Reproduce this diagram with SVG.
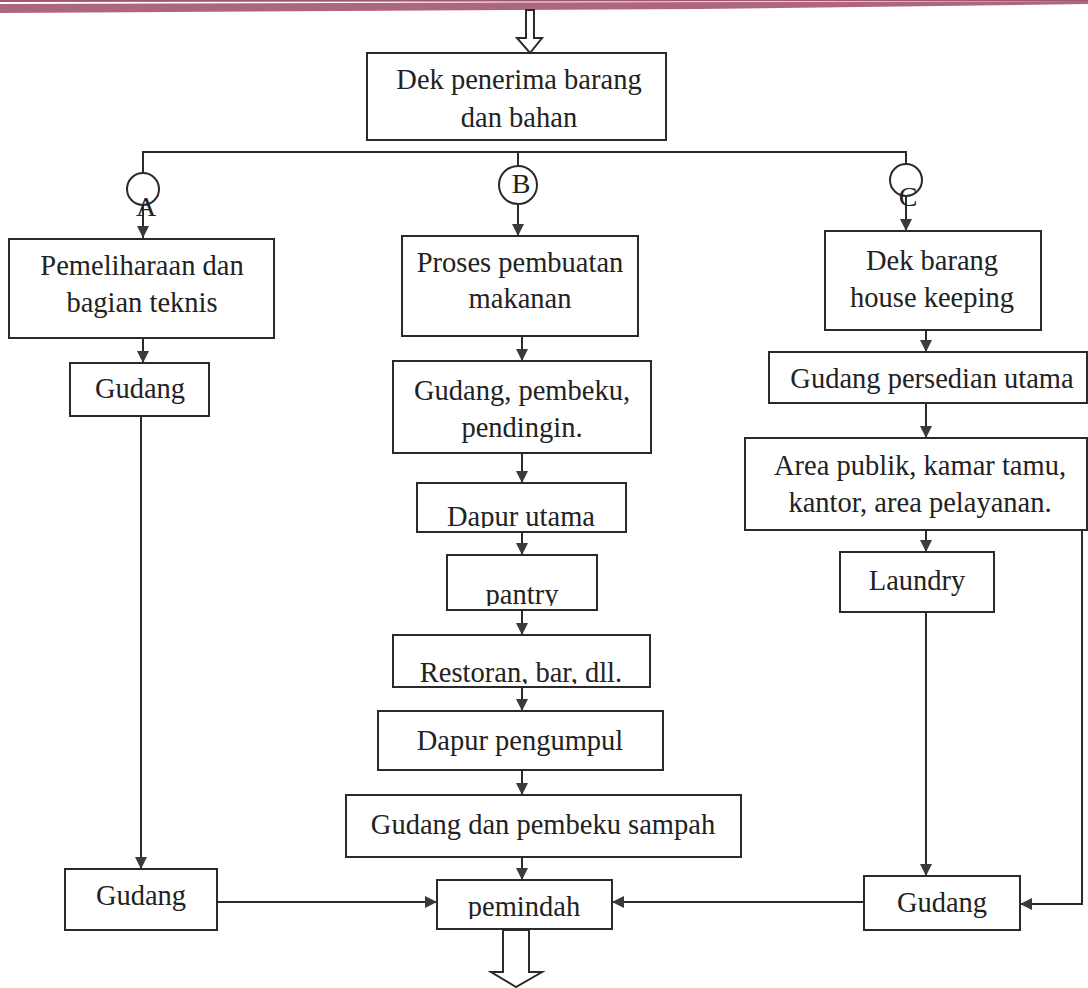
<svg xmlns="http://www.w3.org/2000/svg" width="1088" height="988" viewBox="0 0 1088 988">
<style>
.box{fill:#fff;stroke:#2a2a2a;stroke-width:2}
.t{font-family:"Liberation Serif","Times New Roman",serif;font-size:28.5px;fill:#222;text-anchor:middle}
.lbl{font-family:"Liberation Serif","Times New Roman",serif;font-size:28px;fill:#222;text-anchor:middle}
.ln{fill:none;stroke:#2a2a2a;stroke-width:2}
.ar{fill:none;stroke:#2a2a2a;stroke-width:2;marker-end:url(#ah)}
.hollow{fill:#fff;stroke:#2a2a2a;stroke-width:2;stroke-linejoin:miter}
</style>
<defs>
<marker id="ah" viewBox="0 0 12 12" refX="12" refY="6" markerWidth="12" markerHeight="12" markerUnits="userSpaceOnUse" orient="auto">
<path d="M0,0 L12,6 L0,12 Z" fill="#3a3a3a"/>
</marker>
<clipPath id="cDapur"><rect x="417" y="483" width="209" height="45"/></clipPath>
<clipPath id="cPantry"><rect x="447" y="555" width="150" height="51"/></clipPath>
<clipPath id="cResto"><rect x="393" y="635" width="257" height="49"/></clipPath>
<clipPath id="cPemindah"><rect x="437" y="880" width="175" height="39"/></clipPath>
</defs>
<rect width="1088" height="988" fill="#fff"/>
<g id="band">
<polygon points="0,0 1088,0 1088,1 0,2" fill="#a3566f"/>
<polygon points="0,4 1088,1 1088,4 700,9 0,13" fill="#a3566f" opacity="0.9"/>
</g>
<g id="connectors">
<polyline class="ln" points="143,172 143,152 906,152 906,164"/>
<line class="ln" x1="518" y1="152" x2="518" y2="166"/>
<line class="ar" x1="143" y1="205" x2="143" y2="238"/>
<line class="ar" x1="518" y1="204" x2="518" y2="236"/>
<line class="ar" x1="906" y1="196" x2="906" y2="231"/>
<line class="ar" x1="143" y1="338" x2="143" y2="363"/>
<line class="ar" x1="141" y1="416" x2="141" y2="869"/>
<line class="ar" x1="522" y1="336" x2="522" y2="361"/>
<line class="ar" x1="522" y1="453" x2="522" y2="483"/>
<line class="ar" x1="522" y1="532" x2="522" y2="555"/>
<line class="ar" x1="522" y1="610" x2="522" y2="635"/>
<line class="ar" x1="522" y1="687" x2="522" y2="711"/>
<line class="ar" x1="522" y1="770" x2="522" y2="795"/>
<line class="ar" x1="522" y1="857" x2="522" y2="880"/>
<line class="ar" x1="926" y1="330" x2="926" y2="352"/>
<line class="ar" x1="926" y1="403" x2="926" y2="438"/>
<line class="ar" x1="926" y1="530" x2="926" y2="552"/>
<line class="ar" x1="926" y1="612" x2="926" y2="876"/>
<line class="ar" x1="217" y1="902" x2="437" y2="902"/>
<line class="ar" x1="864" y1="902" x2="612" y2="902"/>
<polyline class="ar" points="1082,530 1082,904 1020,904"/>
</g>
<g id="arrowIn">
<polygon class="hollow" points="526,10 534,10 534,38 542,38 530,53 517,38 526,38"/>
</g>
<g id="arrowOut">
<polygon class="hollow" points="503,930 529,930 529,972 542,972 516,987 491,972 503,972"/>
</g>
<g id="circleA"><circle cx="143" cy="189" r="16" fill="none" stroke="#2a2a2a" stroke-width="2"/><text class="lbl" x="146" y="216">A</text></g>
<g id="circleB"><circle cx="518" cy="185" r="19" fill="none" stroke="#2a2a2a" stroke-width="2"/><text class="lbl" x="521" y="193">B</text></g>
<g id="circleC"><circle cx="906" cy="180" r="16" fill="none" stroke="#2a2a2a" stroke-width="2"/><text class="lbl" x="908" y="206">C</text></g>
<g id="dek"><rect class="box" x="367" y="53" width="299" height="87"/><text class="t" x="519" y="89">Dek penerima barang</text><text class="t" x="519" y="127">dan bahan</text></g>
<g id="pemeliharaan"><rect class="box" x="9" y="239" width="265" height="99"/><text class="t" x="142" y="275">Pemeliharaan dan</text><text class="t" x="142" y="312">bagian teknis</text></g>
<g id="gudangA1"><rect class="box" x="70" y="363" width="139" height="53"/><text class="t" x="140" y="398">Gudang</text></g>
<g id="gudangA2"><rect class="box" x="65" y="869" width="152" height="61"/><text class="t" x="141" y="905">Gudang</text></g>
<g id="proses"><rect class="box" x="402" y="236" width="236" height="100"/><text class="t" x="520" y="272">Proses pembuatan</text><text class="t" x="520" y="308">makanan</text></g>
<g id="gudangPembeku"><rect class="box" x="393" y="361" width="258" height="92"/><text class="t" x="522" y="400">Gudang, pembeku,</text><text class="t" x="522" y="437">pendingin.</text></g>
<g id="dapurUtama"><rect class="box" x="417" y="483" width="209" height="49"/><text class="t" x="521" y="526" clip-path="url(#cDapur)">Dapur utama</text></g>
<g id="pantry"><rect class="box" x="447" y="555" width="150" height="55"/><text class="t" x="522" y="604" clip-path="url(#cPantry)">pantry</text></g>
<g id="restoran"><rect class="box" x="393" y="635" width="257" height="52"/><text class="t" x="521" y="682" clip-path="url(#cResto)">Restoran, bar, dll.</text></g>
<g id="dapurPengumpul"><rect class="box" x="378" y="711" width="285" height="59"/><text class="t" x="520" y="750">Dapur pengumpul</text></g>
<g id="gudangSampah"><rect class="box" x="346" y="795" width="395" height="62"/><text class="t" x="543" y="834">Gudang dan pembeku sampah</text></g>
<g id="pemindah"><rect class="box" x="437" y="880" width="175" height="49"/><text class="t" x="524" y="916" clip-path="url(#cPemindah)">pemindah</text></g>
<g id="dekBarang"><rect class="box" x="825" y="231" width="216" height="99"/><text class="t" x="932" y="270">Dek barang</text><text class="t" x="932" y="307">house keeping</text></g>
<g id="persediaan"><rect class="box" x="769" y="352" width="318" height="51"/><text class="t" x="932" y="388">Gudang persedian utama</text></g>
<g id="areaPublik"><rect class="box" x="745" y="438" width="342" height="92"/><text class="t" x="920" y="475">Area publik, kamar tamu,</text><text class="t" x="920" y="512">kantor, area pelayanan.</text></g>
<g id="laundry"><rect class="box" x="840" y="552" width="154" height="60"/><text class="t" x="917" y="590">Laundry</text></g>
<g id="gudangC2"><rect class="box" x="864" y="876" width="156" height="54"/><text class="t" x="942" y="912">Gudang</text></g>
</svg>
